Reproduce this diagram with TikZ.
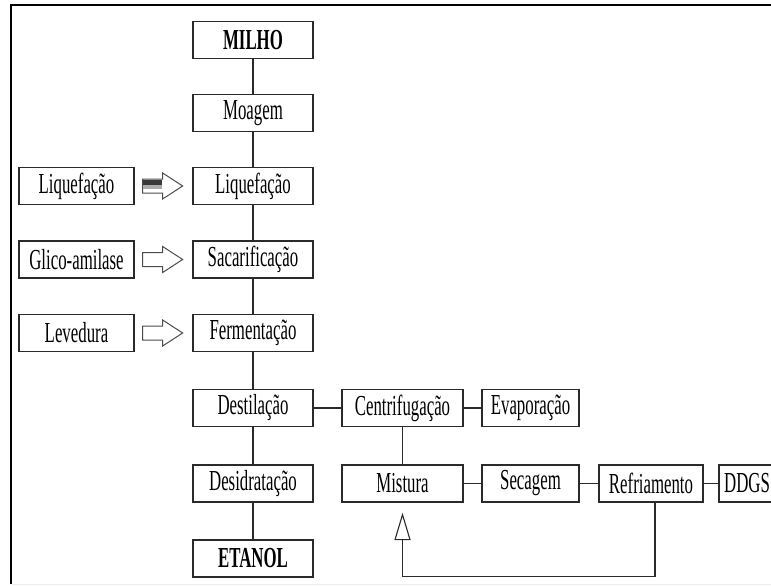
\documentclass[tikz,border=0pt]{standalone}
\usepackage{fontspec}
\setmainfont[FakeStretch=0.58]{Liberation Serif}
\usetikzlibrary{calc}
\definecolor{ink}{HTML}{2A2A2A}
\tikzset{
  stagebox/.style={draw=ink, line width=1.3pt, fill=white, inner sep=0pt,
    minimum height=37, font=\fontsize{29}{32}\selectfont},
  wmain/.style={minimum width=120},
  wleft/.style={minimum width=115},
  link/.style={draw=ink, line width=1.2pt},
  blockarr/.style={draw=gray!60!black, line width=1pt, fill=white, line join=miter},
}
\newcommand\feedarrow[1]{%
  \draw[blockarr, shift={(#1.east)}] (8,-7) -- (28,-7) -- (28,-13) -- (48,0) -- (28,13) -- (28,7) -- (8,7) -- cycle;}
\begin{document}
\begin{tikzpicture}[x=1pt, y=-1pt]
  \useasboundingbox (0,0) rectangle (771,586);
  \clip (0,0) rectangle (771,586);
  % page frame
  \draw[line width=2pt, black] (771,5.5) -- (11,5.5) -- (11,584);
  \draw[line width=1pt, gray!15] (12,584.5) -- (771,584.5);

  % main process column
  \node[stagebox, wmain] (milho) at (253,40)    {\bfseries MILHO};
  \node[stagebox, wmain] (moag)  at (253,113)   {Moagem};
  \node[stagebox, wmain] (liq)   at (253,186)   {Liquefação};
  \node[stagebox, wmain] (sac)   at (253,259.5) {Sacarificação};
  \node[stagebox, wmain] (ferm)  at (253,333)   {Fermentação};
  \node[stagebox, wmain] (dest)  at (253,408)   {Destilação};
  \node[stagebox, wmain] (desid) at (253,483.5) {Desidratação};
  \node[stagebox, wmain] (etanol) at (253,558.5) {\bfseries ETANOL};

  % inputs
  \node[stagebox, wleft] (inliq) at (76.5,186)   {Liquefação};
  \node[stagebox, wleft] (inglu) at (76.5,259.5) {Glico-amilase};
  \node[stagebox, wleft] (inlev) at (76.5,333)   {Levedura};

  % co-product branch
  \node[stagebox, minimum width=121] (centr) at (402.5,408)   {Centrifugação};
  \node[stagebox, minimum width=97]  (evap)  at (530.5,408)   {Evaporação};
  \node[stagebox, minimum width=121] (mist)  at (402.5,483.5) {Mistura};
  \node[stagebox, minimum width=97]  (sec)   at (530.5,483.5) {Secagem};
  \node[stagebox, minimum width=104] (refr)  at (651,483.5)   {Refriamento};
  \node[stagebox, minimum width=56]  (ddgs)  at (747,483.5)   {DDGS};

  % connectors
  \path[link] (milho) -- (moag) -- (liq) -- (sac) -- (ferm) -- (dest) -- (desid) -- (etanol);
  \path[link] (dest) -- (centr) -- (evap);
  \path[link] (centr) -- (mist);
  \path[link] (mist) -- (sec) -- (refr) -- (ddgs);

  % return line with open triangle head
  \coordinate (ret) at ($(refr.south)+(4,0)$);
  \coordinate (tip) at ($(mist.south)+(0,12)$);
  \path[link] (ret) |- ($(mist.south)+(0,74)$) -- ($(tip)+(0,25)$);
  \draw[draw=ink, line width=1.1pt, fill=white, line join=miter]
    (tip) -- ($(tip)+(-7.5,25)$) -- ($(tip)+(7.5,25)$) -- cycle;

  % block arrows from inputs
  \feedarrow{inliq}
  \fill[gray!45!black, shift={(inliq.east)}] (8.5,-6.5) rectangle (27.5,-1);
  \fill[gray!65, shift={(inliq.east)}] (8.5,-1) rectangle (27.5,3);
  \feedarrow{inglu}
  \feedarrow{inlev}
\end{tikzpicture}
\end{document}
